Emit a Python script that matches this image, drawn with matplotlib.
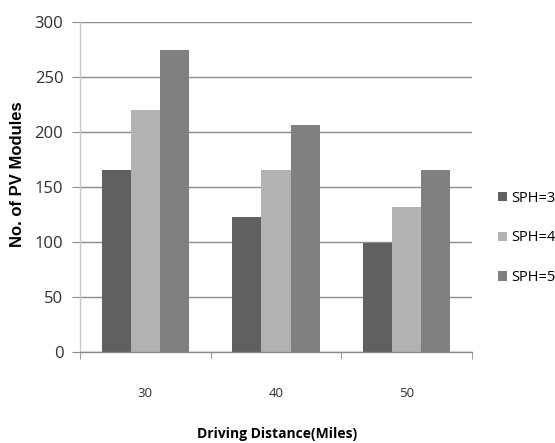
import matplotlib
matplotlib.use("Agg")
import matplotlib.pyplot as plt
import numpy as np

categories = ["30", "40", "50"]
series_names = ["SPH=3", "SPH=4", "SPH=5"]
sph3 = [165, 123, 99]
sph4 = [220, 165, 132]
sph5 = [275, 206, 165]
colors = ["#606060", "#b2b2b2", "#808080"]

narrow = ["Liberation Sans Narrow", "Open Sans", "DejaVu Sans"]

W, H = 555, 443
fig = plt.figure(figsize=(W / 100, H / 100), dpi=100)
ax = fig.add_axes([80 / W, 1 - 352 / H, 392 / W, 330 / H])

x = np.arange(len(categories))
w = 0.222
for i, (vals, name, c) in enumerate(zip([sph3, sph4, sph5], series_names, colors)):
    ax.bar(x + (i - 1) * w, vals, width=w, color=c, label=name, zorder=2)

ax.set_xlim(-0.5, len(categories) - 0.5)
ax.set_ylim(0, 300)
ax.set_yticks(np.arange(0, 301, 50))
ax.yaxis.grid(True, color="#8c8c8c", linewidth=1.0, zorder=0)
ax.set_axisbelow(True)

for s in ["top", "right"]:
    ax.spines[s].set_visible(False)
ax.spines["left"].set_color("#c8c8c8")
ax.spines["bottom"].set_color("#8c8c8c")
ax.spines["left"].set_linewidth(1.0)
ax.spines["bottom"].set_linewidth(1.0)

ax.set_xticks(x)
ax.set_xticklabels(categories, fontfamily=narrow, fontsize=9.5, color="#303030")
ax.set_xticks(np.arange(-0.5, len(categories), 1.0), minor=True)
ax.tick_params(axis="x", which="major", length=0, pad=25)
ax.tick_params(axis="x", which="minor", length=5, color="#8c8c8c", direction="out")
ax.tick_params(axis="y", length=6, color="#8c8c8c", pad=6, labelsize=12)
for lab in ax.get_yticklabels():
    lab.set_fontfamily(narrow)
    lab.set_color("#303030")

fig.text(18 / W, 1 - 174 / H, "No. of PV Modules", rotation=90, ha="center", va="center",
         fontsize=12, fontweight="bold", fontfamily=["Liberation Sans", "DejaVu Sans"])
fig.text(277 / W, 1 - 434 / H, "Driving Distance(Miles)", ha="center", va="center",
         fontsize=10, fontweight="bold", fontfamily=narrow)

leg = ax.legend(loc="center left", bbox_to_anchor=(418 / 392, (352 - 238) / 330),
                frameon=False, borderaxespad=0, borderpad=0,
                prop={"family": narrow, "size": 10.5}, handlelength=0.65, handleheight=0.65,
                labelspacing=1.7, handletextpad=0.25)

fig.savefig("out.png", dpi=100)
